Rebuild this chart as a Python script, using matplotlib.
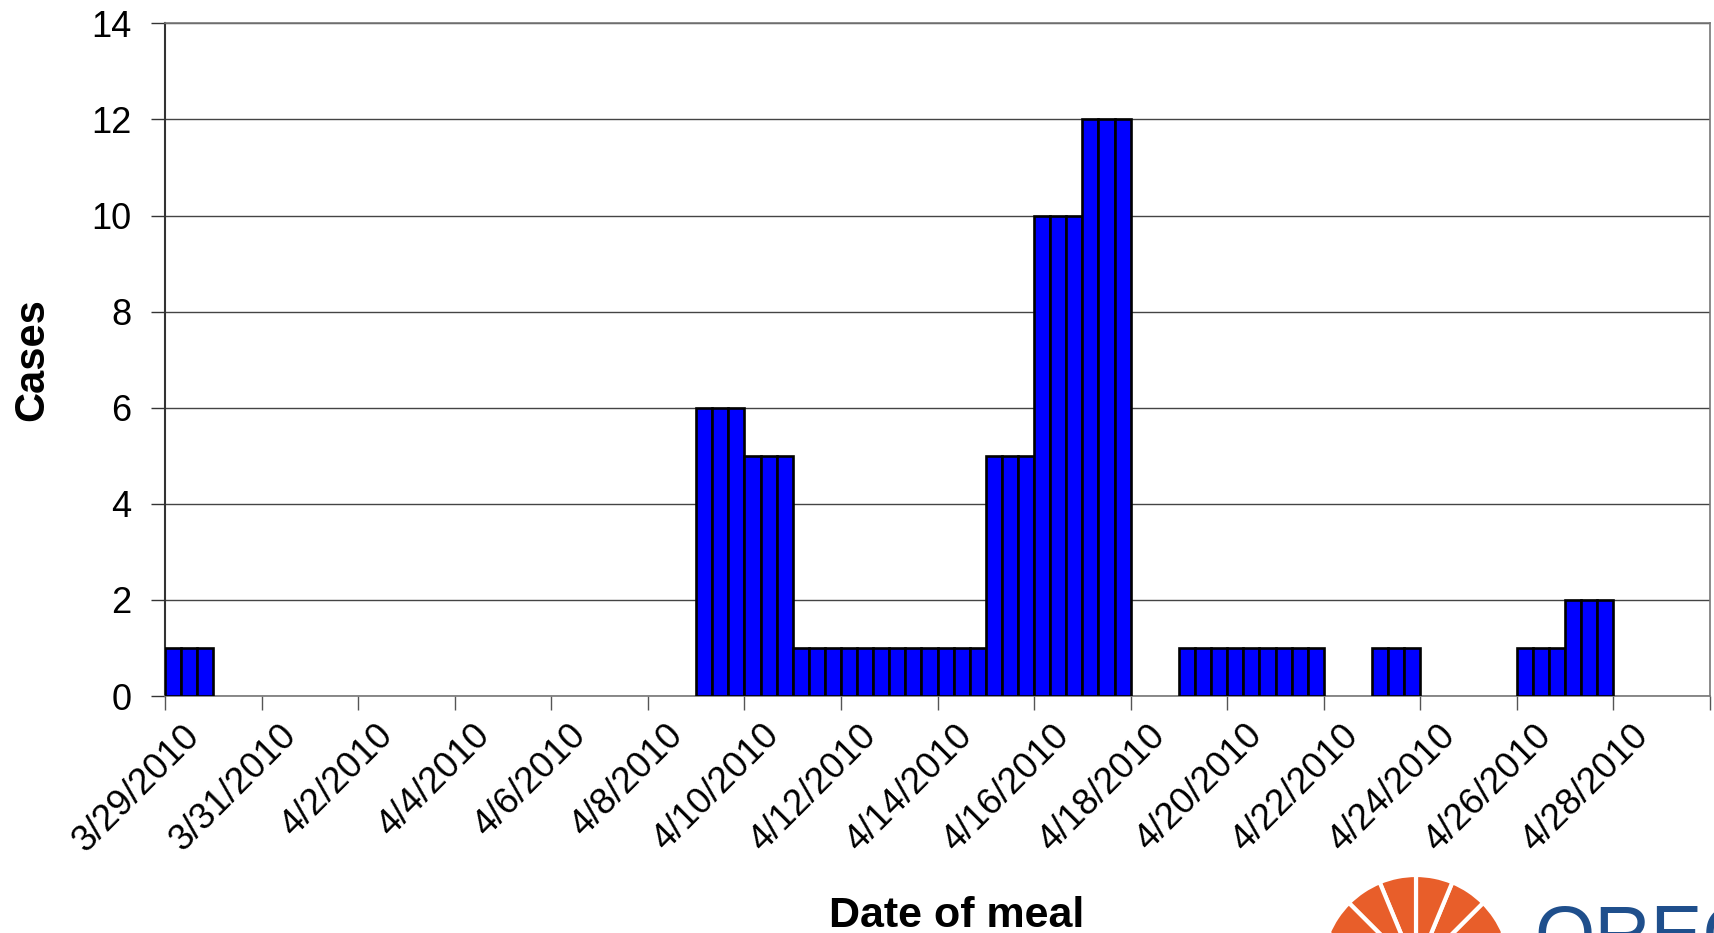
import numpy as np
import matplotlib.pyplot as plt
import matplotlib.dates as mdates
import matplotlib.transforms as mtransforms
from matplotlib.patches import Wedge
import datetime as dt

plt.rcParams['font.family'] = ['Liberation Sans', 'DejaVu Sans']

# cases per meal date (each day split in 3 meal slots of equal height)
meal_dates = ['2010-03-29', '2010-04-09', '2010-04-10', '2010-04-11', '2010-04-12',
              '2010-04-13', '2010-04-14', '2010-04-15', '2010-04-16', '2010-04-17',
              '2010-04-19', '2010-04-20', '2010-04-21', '2010-04-23', '2010-04-26',
              '2010-04-27']
cases = [1, 6, 5, 1, 1, 1, 1, 5, 10, 12, 1, 1, 1, 1, 1, 2]
slots_per_day = 3

tick_dates = ['2010-03-29', '2010-03-31', '2010-04-02', '2010-04-04', '2010-04-06',
              '2010-04-08', '2010-04-10', '2010-04-12', '2010-04-14', '2010-04-16',
              '2010-04-18', '2010-04-20', '2010-04-22', '2010-04-24', '2010-04-26',
              '2010-04-28']
tick_labels = ['3/29/2010', '3/31/2010', '4/2/2010', '4/4/2010', '4/6/2010', '4/8/2010',
               '4/10/2010', '4/12/2010', '4/14/2010', '4/16/2010', '4/18/2010',
               '4/20/2010', '4/22/2010', '4/24/2010', '4/26/2010', '4/28/2010']

fig = plt.figure(figsize=(17.14, 9.33), dpi=100)
ax = fig.add_axes([0.0963, 0.254, 0.9014, 0.721])

day_num = mdates.date2num([dt.datetime.fromisoformat(d) for d in meal_dates])
w = 1.0 / slots_per_day
for d, c in zip(day_num, cases):
    lefts = d + np.arange(slots_per_day) * w
    ax.bar(lefts, [c] * slots_per_day, width=w, align='edge',
           color='#0000FF', edgecolor='black', linewidth=1.9, zorder=3)

ticks = mdates.date2num([dt.datetime.fromisoformat(d) for d in tick_dates])
ax.set_xlim(ticks[0], ticks[0] + 32)
ax.set_ylim(0, 14)
ax.set_yticks(range(0, 15, 2))
ax.set_xticks(list(ticks) + [ticks[0] + 32])
ax.set_xticklabels([''] * (len(ticks) + 1))

# rotated date labels, nudged right of their ticks like the original
lbl_trans = ax.get_xaxis_transform() + mtransforms.ScaledTranslation(
    0.17, -0.22, fig.dpi_scale_trans)
for t, lab in zip(ticks, tick_labels):
    ax.text(t, 0, lab, transform=lbl_trans, rotation=45, ha='right', va='top',
            rotation_mode='anchor', fontsize=26.5)

ax.tick_params(axis='y', labelsize=26, direction='out', length=10, width=1, pad=14,
               color='#333333')
ax.tick_params(axis='x', direction='out', length=10, width=1, color='#555555')

ax.yaxis.grid(True, color='#444444', linewidth=1.0, zorder=0)
for s in ['top', 'right', 'bottom']:
    ax.spines[s].set_color('#777777')
    ax.spines[s].set_linewidth(1.2)
ax.spines['left'].set_color('#333333')
ax.spines['left'].set_linewidth(1.5)

ax.set_ylabel('Cases', fontsize=30, fontweight='bold', labelpad=28)
fig.text(0.558, 0.006, 'Date of meal', fontsize=31, fontweight='bold',
         ha='center', va='baseline')

# logo at bottom right
logo_ax = fig.add_axes([0, 0, 1, 1], zorder=-1)
logo_ax.set_xlim(0, 1714)
logo_ax.set_ylim(933, 0)
logo_ax.axis('off')
cx, cy, r = 1416, 970, 95
edges = np.linspace(0, 180, 9)
for a0, a1 in zip(edges[:-1], edges[1:]):
    logo_ax.add_patch(Wedge((cx, cy), r, -a1, -a0, facecolor='#E85E2A',
                            edgecolor='white', linewidth=3))
logo_ax.text(1534, 960, 'OREGON', color='#1F4F8C', fontsize=56,
             fontweight='light', ha='left', va='baseline')

fig.savefig('out.png', dpi=100)
